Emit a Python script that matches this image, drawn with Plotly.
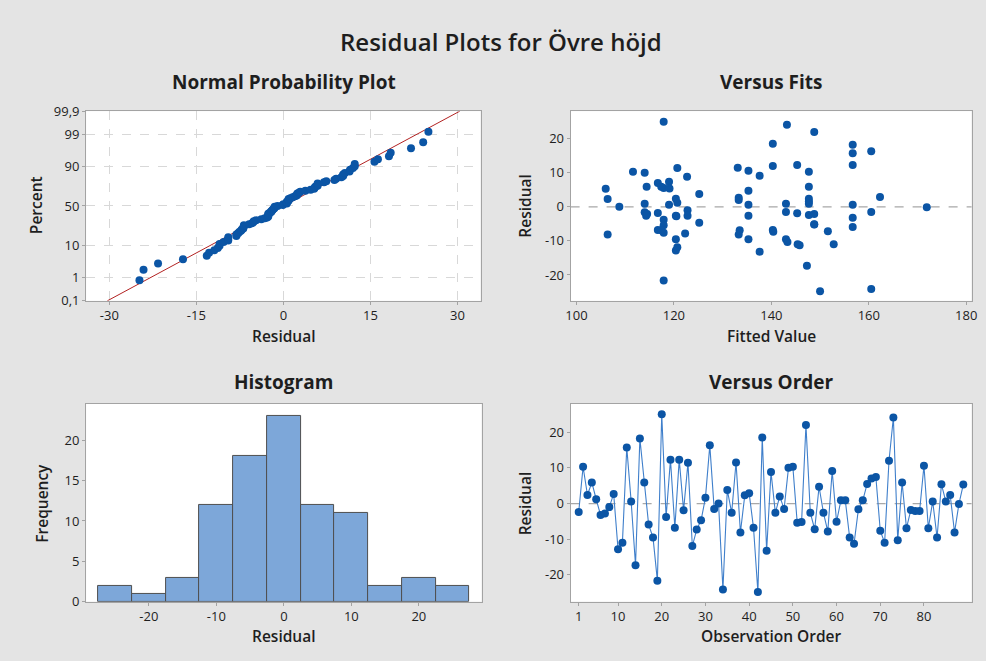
import plotly.graph_objects as go
from statistics import NormalDist, mean, stdev

# Residuals in observation order, and the fitted value of each observation
residuals = [
    -2.4, 10.3, 2.4, 5.9, 1.2, -3.2, -2.8, -1.0, 2.7, -12.8,
    -11.0, 15.7, 0.6, -17.3, 18.2, 5.9, -5.9, -9.5, -21.6, 25.0,
    -3.8, 12.3, -6.8, 12.3, -1.9, 11.4, -11.9, -7.3, -4.7, 1.6,
    16.3, -1.5, 0.0, -24.1, 3.8, -2.6, 11.5, -8.1, 2.3, 2.9,
    -6.8, -24.8, 18.5, -13.2, 8.8, -2.6, 2.0, -1.5, 10.0, 10.3,
    -5.4, -5.2, 22.0, -2.6, -7.2, 4.7, -2.6, -7.8, 9.1, -5.1,
    0.9, 0.9, -9.5, -11.3, -1.6, 0.9, 5.5, 7.0, 7.4, -7.6,
    -11.0, 12.0, 24.1, -10.3, 5.9, -6.9, -1.8, -2.1, -2.1, 10.6,
    -6.9, 0.6, -9.5, 5.4, 0.6, 2.4, -8.1, -0.1, 5.3,
]
fitted = [
    147.7, 111.6, 147.7, 114.4, 120.7, 156.7, 120.5, 122.8, 133.3, 120.4,
    145.4, 156.7, 156.7, 147.3, 156.7, 147.7, 156.7, 143.0, 117.9, 117.9,
    117.9, 156.7, 140.3, 145.3, 145.3, 120.7, 120.7, 140.4, 125.2, 147.7,
    160.5, 143.0, 108.8, 160.5, 125.2, 120.4, 133.1, 133.3, 106.4, 162.3,
    116.7, 150.0, 140.3, 137.6, 122.7, 135.3, 133.3, 160.5, 114.0, 147.7,
    117.9, 148.8, 148.8, 114.3, 151.6, 135.3, 122.8, 122.3, 137.6, 148.8,
    143.0, 147.7, 135.3, 145.8, 114.0, 114.0, 117.9, 116.7, 119.0, 117.9,
    152.8, 140.3, 143.2, 143.3, 117.4, 117.4, 116.7, 148.8, 114.5, 135.3,
    133.5, 135.3, 120.4, 119.1, 119.0, 120.4, 106.4, 171.9, 106.0,
]
order = list(range(1, len(residuals) + 1))

prob_ticks = [0.1, 1, 10, 50, 90, 99, 99.9]
prob_labels = ["0,1", "1", "10", "50", "90", "99", "99,9"]
npp_xticks = [-30, -15, 0, 15, 30]
fit_xticks = [100, 120, 140, 160, 180]
hist_xticks = [-20, -10, 0, 10, 20]
freq_ticks = [0, 5, 10, 15, 20]
res_ticks = [-20, -10, 0, 10, 20]
order_ticks = [1, 10, 20, 30, 40, 50, 60, 70, 80]

W, H = 986, 661
nd = NormalDist()


def px(x):
    return x / W


def py(y):
    return 1 - y / H


def txt(vals):
    # plain hyphen-minus for negative tick labels
    return [str(v) for v in vals]


# Normal scores from Benard median ranks
n = len(residuals)
sorted_res = sorted(residuals)
scores = [nd.inv_cdf((i + 1 - 0.3) / (n + 0.4)) for i in range(n)]
mu, sigma = mean(residuals), stdev(residuals)
z_lo, z_hi = nd.inv_cdf(0.001), nd.inv_cdf(0.999)

BLUE = "#0b55a5"
TXT = "#1e1e1e"
AXC = "#a3a3a3"
FONT = "Open Sans"

fig = go.Figure()

# Normal probability plot
fig.add_trace(go.Scatter(
    x=[mu + sigma * z_lo, mu + sigma * z_hi], y=[z_lo, z_hi],
    mode="lines", line=dict(color="#b22222", width=1),
    xaxis="x", yaxis="y", hoverinfo="skip"))
fig.add_trace(go.Scatter(
    x=sorted_res, y=scores, mode="markers",
    marker=dict(color=BLUE, size=8), xaxis="x", yaxis="y"))

# Versus fits
fig.add_trace(go.Scatter(
    x=fitted, y=residuals, mode="markers",
    marker=dict(color=BLUE, size=8), xaxis="x2", yaxis="y2"))

# Histogram
fig.add_trace(go.Histogram(
    x=residuals, xbins=dict(start=-27.5, end=27.5, size=5),
    marker=dict(color="#7da7d9", line=dict(color="#4f4f4f", width=1)),
    xaxis="x3", yaxis="y3"))

# Versus order
fig.add_trace(go.Scatter(
    x=order, y=residuals, mode="lines+markers",
    line=dict(color="#3f7fcb", width=1.1),
    marker=dict(color=BLUE, size=8), xaxis="x4", yaxis="y4"))

tickfont = dict(family=FONT, size=13, color=TXT)
common = dict(showline=True, mirror=True, linecolor=AXC, linewidth=1,
              ticks="outside", ticklen=3, tickcolor=AXC, tickfont=tickfont,
              zeroline=False, showgrid=False, fixedrange=True)
grid = dict(showgrid=True, gridcolor="#d8d8d8", griddash="dash", gridwidth=1)

fig.update_layout(
    width=W, height=H,
    margin=dict(l=0, r=0, t=0, b=0),
    paper_bgcolor="#e4e4e4", plot_bgcolor="white",
    showlegend=False, bargap=0,
    font=dict(family=FONT, color=TXT),
    xaxis=dict(domain=[px(82), px(481)], range=[-34, 34],
               tickvals=npp_xticks, ticktext=txt(npp_xticks), anchor="y",
               **{**common, **grid}),
    yaxis=dict(domain=[py(300), py(105)], range=[z_lo, z_hi],
               tickvals=[nd.inv_cdf(p / 100) for p in prob_ticks],
               ticktext=prob_labels, anchor="x", **{**common, **grid}),
    xaxis2=dict(domain=[px(572), px(977.5)], range=[98.8, 181.1],
                tickvals=fit_xticks, ticktext=txt(fit_xticks), anchor="y2", **common),
    yaxis2=dict(domain=[py(300), py(105)], range=[-27.6, 28.1],
                tickvals=res_ticks, ticktext=txt(res_ticks), anchor="x2", **common),
    xaxis3=dict(domain=[px(82), px(482)], range=[-29.3, 29.3],
                tickvals=hist_xticks, ticktext=txt(hist_xticks), anchor="y3", **common),
    yaxis3=dict(domain=[py(609.3), py(406)], range=[0, 24.5],
                tickvals=freq_ticks, ticktext=txt(freq_ticks), anchor="x3", **common),
    xaxis4=dict(domain=[px(572), px(977.5)], range=[-0.85, 90.9],
                tickvals=order_ticks, ticktext=txt(order_ticks), anchor="y4", **common),
    yaxis4=dict(domain=[py(609.3), py(406)], range=[-27.5, 27.9],
                tickvals=res_ticks, ticktext=txt(res_ticks), anchor="x4", **common),
)

# Dashed zero reference lines
shapes = []
for xa, ya in (("x2", "y2"), ("x4", "y4")):
    shapes.append(dict(type="line", xref=f"{xa} domain", yref=ya,
                       x0=0, x1=1, y0=0, y1=0,
                       line=dict(color="#a8a8a8", width=1.3, dash="dash"),
                       layer="below"))
fig.update_layout(shapes=shapes)


def label(text, x, y, size, weight=600, angle=0):
    fig.add_annotation(text=text, x=px(x), y=py(y), xref="paper", yref="paper",
                       showarrow=False, textangle=angle,
                       font=dict(family=FONT, size=size, color=TXT, weight=weight),
                       xanchor="center", yanchor="middle")


label("Residual Plots for Övre höjd", 502, 33, 24, 600)
label("Normal Probability Plot", 282, 75, 19, 700)
label("Versus Fits", 775, 75, 19, 700)
label("Histogram", 282, 383, 19, 700)
label("Versus Order", 775, 383, 19, 700)

label("Residual", 282, 336, 15.5)
label("Percent", 32, 202, 15.5, angle=-90)
label("Fitted Value", 775, 336, 15.5)
label("Residual", 526, 202, 15.5, angle=-90)
label("Residual", 282, 645, 15.5)
label("Frequency", 38, 508, 15.5, angle=-90)
label("Observation Order", 775, 645, 15.5)
label("Residual", 526, 508, 15.5, angle=-90)

fig.write_html("out.html")
